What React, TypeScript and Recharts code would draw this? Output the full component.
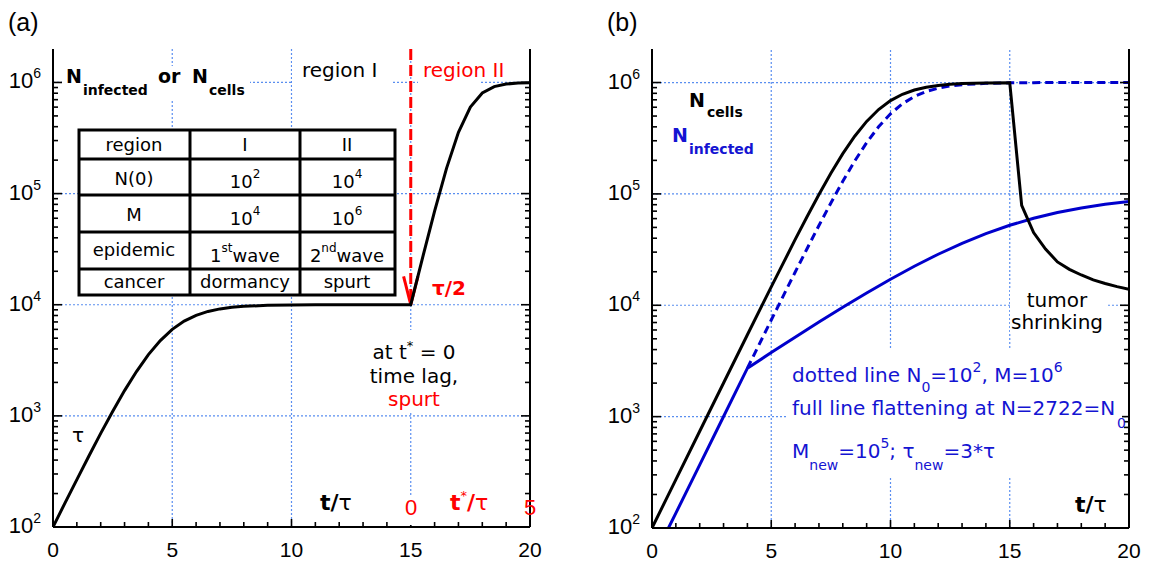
import React from 'react';
import { LineChart, Line, XAxis, YAxis, ReferenceLine } from 'recharts';

// ---------- shared axis values ----------
const X_TICKS = [0, 1, 2, 3, 4, 5, 6, 7, 8, 9, 10, 11, 12, 13, 14, 15, 16, 17, 18, 19, 20];
const X_LABELS = [0, 5, 10, 15, 20];
const Y_TICKS = [
  100, 200, 300, 400, 500, 600, 700, 800, 900,
  1000, 2000, 3000, 4000, 5000, 6000, 7000, 8000, 9000,
  10000, 20000, 30000, 40000, 50000, 60000, 70000, 80000, 90000,
  100000, 200000, 300000, 400000, 500000, 600000, 700000, 800000, 900000,
  1000000,
];
const Y_MAJOR = [100, 1000, 10000, 100000, 1000000];
const GRID_X = [5, 10, 15];
const GRID_Y = [1000, 10000, 100000, 1000000];
const Y_DOMAIN = [100, 2000000];

// ---------- panel (a) ----------
const tA = [0, 0.5, 1, 1.5, 2, 2.5, 3, 3.5, 4, 4.5, 5, 5.5, 6, 6.5, 7, 7.5, 8, 9, 10, 11, 12, 13, 14, 15,
  15.5, 16, 16.5, 17, 17.5, 18, 18.5, 19, 19.5, 20];
const nA = [100, 164, 267, 433, 695, 1096, 1687, 2506, 3555, 4762, 6000, 7120, 8030, 8705, 9172, 9481, 9679,
  9879, 9955, 9983, 9994, 9998, 9999, 10000,
  26700, 69400, 168700, 355500, 599900, 803000, 917200, 968000, 987900, 995500];

// ---------- panel (b) ----------
const tCells = [0, 1, 2, 3, 4, 5, 6, 6.5, 7, 7.5, 8, 8.5, 9, 9.5, 10, 10.5, 11, 11.5, 12, 12.5, 13, 14, 15,
  15.5, 16, 16.5, 17, 17.5, 18, 18.5, 19, 19.5, 20];
const nCells = [100, 272, 739, 2004, 5432, 14630, 38790, 62380, 98830, 153100, 229700, 329500, 447700, 571900,
  687700, 784100, 856900, 908000, 942100, 964100, 977900, 991700, 997000,
  79000, 45000, 32000, 24500, 21000, 18700, 16900, 15700, 14700, 13900];

const tInfDotted = [4, 4.5, 5, 5.5, 6, 6.5, 7, 7.5, 8, 8.5, 9, 9.5, 10, 10.5, 11, 11.5, 12, 12.5, 13, 14, 15,
  16, 17, 18, 19, 20];
const nInfDotted = [2722, 4483, 7370, 12090, 19780, 32200, 52000, 82900, 129800, 197200, 288400, 400500, 524200,
  644900, 749700, 831500, 890600, 930700, 956800, 983600, 993900, 997800, 999200, 999700, 999900, 1000000];

const tInfFull = [0.69, 1, 2, 3, 4, 5, 6, 7, 8, 9, 10, 11, 12, 13, 14, 15, 16, 17, 18, 19, 20];
const nInfFull = [100, 136, 369, 1003, 2722, 3758, 5168, 7068, 9597, 12900, 17130, 22390, 28710, 35980, 43960,
  52260, 60430, 68070, 74850, 80590, 85280];

const zip = (ts: number[], ns: number[]) => ts.map((t, i) => ({ t, n: ns[i] }));
const dataA = zip(tA, nA);
const dataCells = zip(tCells, nCells);
const dataInfDotted = zip(tInfDotted, nInfDotted);
const dataInfFull = zip(tInfFull, nInfFull);

// ---------- styles ----------
const BLUE = '#0000cc';
const BLUE_TEXT = '#1414d2';
const RED = '#ff0000';
const GRID = '#5a8ef0';
const TICK_FONT = 'Liberation Sans, Arial, sans-serif';
const ANN_FONT = 'DejaVu Sans, Verdana, sans-serif';

const isMajorY = (v: number) => Y_MAJOR.includes(v);
const isMajorX = (v: number) => X_LABELS.includes(v);

const LeftTick = (props: any) => {
  const { x, y, payload } = props;
  const v = payload.value;
  const major = isMajorY(v);
  const e = Math.round(Math.log10(v));
  return (
    <g>
      <line x1={x} x2={x + (major ? 9 : 5)} y1={y} y2={y} stroke="#000" strokeWidth={1.6} />
      {major && (
        <text x={x - 12} y={y + 6} textAnchor="end" fontFamily={TICK_FONT} fontSize={22} fill="#000">
          10<tspan dy={-10} fontSize={14}>{e}</tspan>
        </text>
      )}
    </g>
  );
};

const RightTick = (props: any) => {
  const { x, y, payload } = props;
  const major = isMajorY(payload.value);
  return <line x1={x} x2={x - (major ? 9 : 5)} y1={y} y2={y} stroke="#000" strokeWidth={1.6} />;
};

const BottomTick = (props: any) => {
  const { x, y, payload } = props;
  const v = payload.value;
  const major = isMajorX(v);
  return (
    <g>
      <line x1={x} x2={x} y1={y} y2={y - (major ? 8 : 5)} stroke="#000" strokeWidth={1.6} />
      {major && (
        <text x={x} y={y + 30} textAnchor="middle" fontFamily={TICK_FONT} fontSize={21} fill="#000">
          {v}
        </text>
      )}
    </g>
  );
};

const TopTick = (props: any) => {
  const { x, y, payload } = props;
  const major = isMajorX(payload.value);
  return <line x1={x} x2={x} y1={y} y2={y + (major ? 8 : 5)} stroke="#000" strokeWidth={1.6} />;
};

const axisLine = { stroke: '#000', strokeWidth: 2 };

function renderAxes(bottomHeight: number, leftWidth: number) {
  return [
    <XAxis key="xb" xAxisId="b" orientation="bottom" type="number" dataKey="t" domain={[0, 20]} ticks={X_TICKS}
      interval={0} tickSize={0} tickMargin={0} tickLine={false} axisLine={axisLine} tick={BottomTick}
      height={bottomHeight} allowDataOverflow />,
    <XAxis key="xt" xAxisId="t" orientation="top" type="number" dataKey="t" domain={[0, 20]} ticks={X_TICKS}
      interval={0} tickSize={0} tickMargin={0} tickLine={false} axisLine={axisLine} tick={TopTick}
      height={0} allowDataOverflow />,
    <YAxis key="yl" yAxisId="l" orientation="left" type="number" scale="log" domain={Y_DOMAIN} ticks={Y_TICKS}
      interval={0} tickSize={0} tickMargin={0} tickLine={false} axisLine={axisLine} tick={LeftTick}
      width={leftWidth} allowDataOverflow />,
    <YAxis key="yr" yAxisId="r" orientation="right" type="number" scale="log" domain={Y_DOMAIN} ticks={Y_TICKS}
      interval={0} tickSize={0} tickMargin={0} tickLine={false} axisLine={axisLine} tick={RightTick}
      width={1} allowDataOverflow />,
  ];
}

function renderGrid() {
  return [
    ...GRID_X.map((g) => (
      <ReferenceLine key={'gx' + g} xAxisId="b" yAxisId="l" x={g} stroke={GRID} strokeWidth={1.2} strokeDasharray="2 2" />
    )),
    ...GRID_Y.map((g) => (
      <ReferenceLine key={'gy' + g} xAxisId="b" yAxisId="l" y={g} stroke={GRID} strokeWidth={1.2} strokeDasharray="2 2" />
    )),
  ];
}

const WhiteBox = ({ x, y, w, h }: { x: number; y: number; w: number; h: number }) => (
  <rect x={x} y={y} width={w} height={h} fill="#fff" />
);

const Overlay = () => (
  <svg width={1157} height={562} style={{ position: 'absolute', left: 0, top: 0, pointerEvents: 'none' }}>
    {/* panel labels */}
    <text x={8} y={31} fontFamily={TICK_FONT} fontSize={25} fill="#000">(a)</text>
    <text x={607} y={31} fontFamily={TICK_FONT} fontSize={25} fill="#000">(b)</text>

    {/* ---- panel (a) ---- */}
    <WhiteBox x={62} y={66} w={188} h={34} />
    <g fontFamily={ANN_FONT} fontWeight="bold" fill="#000">
      <text x={66} y={83} fontSize={19}>N</text>
      <text x={83} y={95} fontSize={14}>infected</text>
      <text x={158} y={83} fontSize={19}>or</text>
      <text x={192} y={83} fontSize={19}>N</text>
      <text x={209} y={95} fontSize={14}>cells</text>
    </g>

    <WhiteBox x={292} y={58} w={100} h={32} />
    <text x={302} y={77} fontFamily={ANN_FONT} fontSize={20} fill="#000">region I</text>
    <WhiteBox x={418} y={58} w={62} h={32} />
    <text x={423} y={77} fontFamily={ANN_FONT} fontSize={20} fill={RED}>region II</text>

    {/* table */}
    <g fontFamily={ANN_FONT} fontSize={18} fill="#000" textAnchor="middle">
      <rect x={79} y={130} width={316} height={165} fill="#fff" stroke="#000" strokeWidth={3} />
      <line x1={190} x2={190} y1={130} y2={295} stroke="#000" strokeWidth={3} />
      <line x1={300} x2={300} y1={130} y2={295} stroke="#000" strokeWidth={3} />
      <line x1={79} x2={395} y1={159} y2={159} stroke="#000" strokeWidth={3} />
      <line x1={79} x2={395} y1={195} y2={195} stroke="#000" strokeWidth={3} />
      <line x1={79} x2={395} y1={232} y2={232} stroke="#000" strokeWidth={3} />
      <line x1={79} x2={395} y1={269} y2={269} stroke="#000" strokeWidth={3} />
      <text x={134} y={151}>region</text>
      <text x={245} y={151}>I</text>
      <text x={347} y={151}>II</text>
      <text x={134} y={185}>N(0)</text>
      <text x={245} y={188}>10<tspan dy={-10} fontSize={12}>2</tspan></text>
      <text x={347} y={188}>10<tspan dy={-10} fontSize={12}>4</tspan></text>
      <text x={134} y={221}>M</text>
      <text x={245} y={225}>10<tspan dy={-10} fontSize={12}>4</tspan></text>
      <text x={347} y={225}>10<tspan dy={-10} fontSize={12}>6</tspan></text>
      <text x={134} y={256}>epidemic</text>
      <text x={245} y={262}>1<tspan dy={-10} fontSize={12}>st</tspan><tspan dy={10}>wave</tspan></text>
      <text x={347} y={262}>2<tspan dy={-10} fontSize={12}>nd</tspan><tspan dy={10}>wave</tspan></text>
      <text x={134} y={288}>cancer</text>
      <text x={245} y={288}>dormancy</text>
      <text x={347} y={288}>spurt</text>
    </g>

    <text x={432} y={295} fontFamily={ANN_FONT} fontWeight="bold" fontSize={20} fill={RED}>τ/2</text>

    <WhiteBox x={362} y={330} w={106} h={82} />
    <g fontFamily={ANN_FONT} fontSize={20} textAnchor="middle">
      <text x={414} y={359} fill="#000">at t<tspan dy={-9} fontSize={13}>*</tspan><tspan dy={9}> = 0</tspan></text>
      <text x={414} y={383} fill="#000">time lag,</text>
      <text x={414} y={406} fill={RED}>spurt</text>
    </g>

    <text x={72} y={442} fontFamily={ANN_FONT} fontSize={20} fill="#000">τ</text>

    <text x={320} y={510} fontFamily={ANN_FONT} fontSize={22} fill="#000">
      <tspan fontWeight="bold">t/</tspan><tspan>τ</tspan>
    </text>
    <WhiteBox x={403} y={495} w={16} h={30} />
    <text x={411} y={515} textAnchor="middle" fontFamily={TICK_FONT} fontSize={22} fill={RED}>0</text>
    <text x={450} y={510} fontFamily={ANN_FONT} fontSize={22} fill={RED}>
      <tspan fontWeight="bold">t</tspan><tspan dy={-10} fontSize={13}>*</tspan><tspan dy={10} fontWeight="bold">/</tspan><tspan>τ</tspan>
    </text>
    <text x={530} y={515} textAnchor="middle" fontFamily={TICK_FONT} fontSize={22} fill={RED}>5</text>

    {/* ---- panel (b) ---- */}
    <g fontFamily={ANN_FONT} fontWeight="bold">
      <text x={689} y={107} fontSize={19} fill="#000">N</text>
      <text x={707} y={117} fontSize={14} fill="#000">cells</text>
      <text x={672} y={142} fontSize={19} fill={BLUE_TEXT}>N</text>
      <text x={689} y={154} fontSize={14} fill={BLUE_TEXT}>infected</text>
    </g>

    <WhiteBox x={1010} y={290} w={97} h={44} />
    <g fontFamily={ANN_FONT} fontSize={20} fill="#000" textAnchor="middle">
      <text x={1057} y={307}>tumor</text>
      <text x={1057} y={329}>shrinking</text>
    </g>

    <WhiteBox x={787} y={350} w={335} h={127} />
    <g fontFamily={ANN_FONT} fontSize={20} fill={BLUE_TEXT}>
      <text x={792} y={382}>
        dotted line N<tspan dy={10} fontSize={14}>0</tspan><tspan dy={-10}>=10</tspan>
        <tspan dy={-10} fontSize={14}>2</tspan><tspan dy={10}>, M=10</tspan><tspan dy={-10} fontSize={14}>6</tspan>
      </text>
      <text x={792} y={415}>full line flattening at N=2722=N</text>
      <text x={1117} y={428} fontSize={14}>0</text>
      <text x={792} y={458}>
        M<tspan dy={12} fontSize={14}>new</tspan><tspan dy={-12}>=10</tspan><tspan dy={-10} fontSize={14}>5</tspan>
        <tspan dy={10}>; τ</tspan><tspan dy={12} fontSize={14}>new</tspan><tspan dy={-12}>=3*τ</tspan>
      </text>
    </g>

    <text x={1075} y={512} fontFamily={ANN_FONT} fontSize={22} fill="#000">
      <tspan fontWeight="bold">t/</tspan><tspan>τ</tspan>
    </text>
  </svg>
);

export default function App() {
  return (
    <div style={{ position: 'absolute', left: 0, top: 0, width: 1157, height: 562, background: '#fff', overflow: 'hidden' }}>
      <div style={{ position: 'absolute', left: 0, top: 0 }}>
        <LineChart width={560} height={562} margin={{ top: 49, right: 29, bottom: 0, left: 0 }}>
          {renderAxes(35, 53)}
          {renderGrid()}
          <ReferenceLine xAxisId="b" yAxisId="l" segment={[{ x: 15, y: 2000000 }, { x: 15, y: 10600 }]}
            stroke={RED} strokeWidth={3} strokeDasharray="11 5" />
          <ReferenceLine xAxisId="b" yAxisId="l" segment={[{ x: 14.7, y: 18000 }, { x: 15, y: 10000 }]}
            stroke={RED} strokeWidth={3} />
          <ReferenceLine xAxisId="b" yAxisId="l" segment={[{ x: 15.3, y: 18000 }, { x: 15, y: 10000 }]}
            stroke={RED} strokeWidth={3} />
          <Line data={dataA} xAxisId="b" yAxisId="l" dataKey="n" type="linear" stroke="#000" strokeWidth={3}
            dot={false} isAnimationActive={false} />
        </LineChart>
      </div>
      <div style={{ position: 'absolute', left: 590, top: 0 }}>
        <LineChart width={567} height={562} margin={{ top: 49, right: 27, bottom: 0, left: 0 }}>
          {renderAxes(34, 62)}
          {renderGrid()}
          <Line data={dataInfDotted} xAxisId="b" yAxisId="l" dataKey="n" type="linear" stroke={BLUE} strokeWidth={3}
            strokeDasharray="8 5" dot={false} isAnimationActive={false} />
          <Line data={dataInfFull} xAxisId="b" yAxisId="l" dataKey="n" type="linear" stroke={BLUE} strokeWidth={3}
            dot={false} isAnimationActive={false} />
          <Line data={dataCells} xAxisId="b" yAxisId="l" dataKey="n" type="linear" stroke="#000" strokeWidth={3}
            dot={false} isAnimationActive={false} />
        </LineChart>
      </div>
      <Overlay />
    </div>
  );
}
